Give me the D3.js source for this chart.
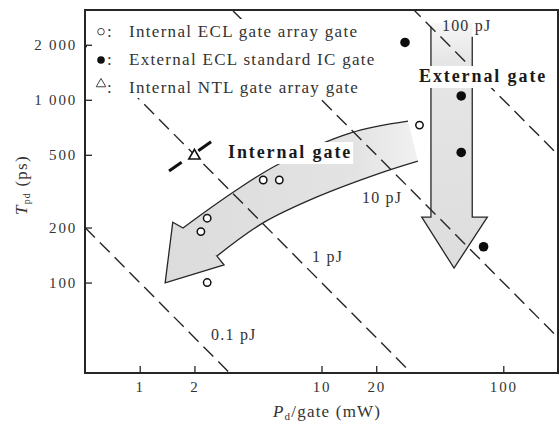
<!DOCTYPE html>
<html>
<head>
<meta charset="utf-8">
<script src="https://cdn.jsdelivr.net/npm/d3@7/dist/d3.min.js"></script>
<style>
  html, body { margin: 0; padding: 0; background: #fff; }
  svg { display: block; font-family: "Liberation Serif", "Times New Roman", serif; }
</style>
</head>
<body>
<svg id="chart" width="560" height="427"></svg>
<script>
// Power dissipation per gate (mW) vs propagation delay (ps)
const eclInternal = [[2.35, 100], [2.17, 190], [2.35, 225], [4.78, 364], [5.86, 364], [34.6, 727]];
const eclExternal = [[28.8, 2060], [58.7, 1050], [58.7, 515], [77.9, 157]];
const ntlInternal = [[2.0, 500]];

// Constant power-delay product lines (pJ)
const energies = [0.1, 1, 10, 100];
const energyLabels = ["0.1 pJ", "1 pJ", "10 pJ", "100 pJ"];
const energyLabelAt = [[2.47, 48.5], [8.87, 129.5], [16.7, 272], [46, 2384]];

const xTicks = [1, 2, 10, 20, 100];
const xTickLabels = ["1", "2", "10", "20", "100"];
const yTicks = [100, 200, 500, 1000, 2000];
const yTickLabels = ["100", "200", "500", "1 000", "2 000"];

const legendItems = ["Internal ECL gate array gate", "External ECL standard IC gate", "Internal NTL gate array gate"];

// Trend arrows, in (mW, ps)
const internalUpper = [[29.9, 765], [14.35, 658], [5.69, 440], [3.22, 309], [1.73, 199]];
const internalHead = [[1.52, 214], [1.38, 99.5], [2.91, 124.8], [2.66, 139.6]];
const internalLower = [[2.66, 139.6], [4.77, 212], [9.45, 294], [21.8, 402], [33.9, 462]];
const externalOutline = [[67.5, 2212], [67.5, 228], [81.7, 228], [53.6, 120], [35.6, 228], [40, 228], [40, 2512]];
const externalTop = 2620;
const ntlCross = [[[1.45, 408], [1.70, 455]], [[2.10, 526], [2.47, 589]]];

const svg = d3.select("#chart");
const x = d3.scaleLog().domain([0.5, 200]).range([85, 558]);
const y = d3.scaleLog().domain([32, 3100]).range([373, 10]);
const ink = "#262626";
const px = d => x(d[0]), py = d => y(d[1]);

const defs = svg.append("defs");
defs.append("clipPath").attr("id", "plot")
  .append("rect").attr("x", x(0.5)).attr("y", y(3100))
  .attr("width", x(200) - x(0.5)).attr("height", y(32) - y(3100));

const gi = defs.append("linearGradient").attr("id", "gInt")
  .attr("gradientUnits", "userSpaceOnUse")
  .attr("x1", x(1.4)).attr("x2", x(34)).attr("y1", 0).attr("y2", 0);
gi.append("stop").attr("offset", 0).attr("stop-color", "#dcdcdc");
gi.append("stop").attr("offset", 0.75).attr("stop-color", "#e3e3e3");
gi.append("stop").attr("offset", 1).attr("stop-color", "#f1f1f1");

const ge = defs.append("linearGradient").attr("id", "gExt")
  .attr("gradientUnits", "userSpaceOnUse")
  .attr("x1", 0).attr("x2", 0).attr("y1", y(externalTop)).attr("y2", y(120));
ge.append("stop").attr("offset", 0).attr("stop-color", "#f6f6f6");
ge.append("stop").attr("offset", 0.15).attr("stop-color", "#e6e6e6");
ge.append("stop").attr("offset", 1).attr("stop-color", "#dddddd");

const plot = svg.append("g").attr("clip-path", "url(#plot)");

// Internal gate arrow
const curve = d3.line().x(px).y(py).curve(d3.curveCatmullRom.alpha(0.5));
const upperPath = curve(internalUpper);
const lowerPath = curve(internalLower).replace(/^M/, "L");
const headPath = internalHead.map(d => "L" + px(d) + "," + py(d)).join("");
const internalD = upperPath + headPath + lowerPath;
plot.append("path").attr("d", internalD + "Z").attr("fill", "url(#gInt)").attr("stroke", "none");
plot.append("path").attr("d", internalD).attr("fill", "none")
  .attr("stroke", ink).attr("stroke-width", 1.3).attr("stroke-linejoin", "miter");

// External gate arrow
const extFillPts = [[40, externalTop], [67.5, externalTop], ...externalOutline.slice(1), [40, externalTop]];
plot.append("path")
  .attr("d", d3.line().x(px).y(py)(extFillPts) + "Z")
  .attr("fill", "url(#gExt)").attr("stroke", "none");
plot.append("path")
  .attr("d", d3.line().x(px).y(py)(externalOutline))
  .attr("fill", "none").attr("stroke", ink).attr("stroke-width", 1.3);

// Constant-energy dashed lines: T = 1000 * E / P
plot.selectAll("line.energy").data(energies).join("line")
  .attr("class", "energy")
  .attr("x1", x(0.5)).attr("y1", e => y(1000 * e / 0.5))
  .attr("x2", x(200)).attr("y2", e => y(1000 * e / 200))
  .attr("stroke", ink).attr("stroke-width", 1.4)
  .attr("stroke-dasharray", "14,7");

// Energy labels
svg.selectAll("text.elab").data(energies).join("text")
  .attr("class", "elab")
  .attr("x", (e, i) => x(energyLabelAt[i][0]))
  .attr("y", (e, i) => y(energyLabelAt[i][1]))
  .attr("font-size", 16).attr("letter-spacing", 1.2).attr("fill", "#333")
  .text((e, i) => energyLabels[i]);

// Arrow captions, each on a white patch
function caption(text, at) {
  const t = svg.append("text").attr("x", x(at[0])).attr("y", y(at[1]))
    .attr("font-size", 18).attr("font-weight", "bold").attr("letter-spacing", 1.9)
    .attr("fill", "#1a1a1a").text(text);
  const b = t.node().getBBox();
  svg.insert("rect", () => t.node())
    .attr("x", b.x - 3).attr("y", b.y).attr("width", b.width + 4).attr("height", b.height + 2)
    .attr("fill", "#fff");
}
caption("Internal gate", [3.06, 480]);
caption("External gate", [34.4, 1251]);

// Legend with white background
const lg = svg.append("g");
lg.append("rect").attr("x", 87).attr("y", 19).attr("width", 294).attr("height", 79).attr("fill", "#fff");
legendItems.forEach((label, i) => {
  const by = 36.7 + i * 28.3;
  lg.append("text").attr("x", 107).attr("y", by).attr("font-size", 17).attr("fill", "#333").text(":");
  lg.append("text").attr("x", 129).attr("y", by)
    .attr("font-size", 17).attr("letter-spacing", 1.3).attr("fill", "#333").text(label);
});
lg.append("circle").attr("cx", 101).attr("cy", 31.7).attr("r", 3.3)
  .attr("fill", "none").attr("stroke", "#444").attr("stroke-width", 1);
lg.append("circle").attr("cx", 101).attr("cy", 60).attr("r", 3.8).attr("fill", "#111");
lg.append("path").attr("d", d3.symbol(d3.symbolTriangle, 40)())
  .attr("transform", "translate(101,84)")
  .attr("fill", "none").attr("stroke", "#444").attr("stroke-width", 1);

// NTL marker crossing
svg.selectAll("line.cross").data(ntlCross).join("line")
  .attr("x1", d => px(d[0])).attr("y1", d => py(d[0]))
  .attr("x2", d => px(d[1])).attr("y2", d => py(d[1]))
  .attr("stroke", "#111").attr("stroke-width", 3).attr("stroke-linecap", "butt");

// Data points
svg.selectAll("circle.int").data(eclInternal).join("circle")
  .attr("cx", px).attr("cy", py).attr("r", 3.7)
  .attr("fill", "#fff").attr("stroke", "#111").attr("stroke-width", 1.5);
svg.selectAll("circle.ext").data(eclExternal).join("circle")
  .attr("cx", px).attr("cy", py).attr("r", 4.8).attr("fill", "#0d0d0d");
svg.selectAll("path.ntl").data(ntlInternal).join("path")
  .attr("d", d3.symbol(d3.symbolTriangle, 55)())
  .attr("transform", d => `translate(${px(d)},${py(d) + 1})`)
  .attr("fill", "#fff").attr("stroke", "#111").attr("stroke-width", 1.6);

// Frame
svg.append("rect").attr("x", x(0.5)).attr("y", y(3100))
  .attr("width", x(200) - x(0.5)).attr("height", y(32) - y(3100))
  .attr("fill", "none").attr("stroke", ink).attr("stroke-width", 2);

// Axes with inward ticks
const xAxis = d3.axisBottom(x).tickValues(xTicks).tickSizeInner(-7).tickSizeOuter(0)
  .tickPadding(8).tickFormat((d, i) => xTickLabels[i]);
const gx = svg.append("g").attr("transform", `translate(0,${y(32)})`).call(xAxis);
const yAxis = d3.axisLeft(y).tickValues(yTicks).tickSizeInner(-7).tickSizeOuter(0)
  .tickPadding(8).tickFormat((d, i) => yTickLabels[i]);
const gy = svg.append("g").attr("transform", `translate(${x(0.5)},0)`).call(yAxis);
[gx, gy].forEach(g => {
  g.select(".domain").remove();
  g.selectAll(".tick line").attr("stroke", ink).attr("stroke-width", 1.3);
  g.selectAll(".tick text").attr("font-family", "Liberation Serif")
    .attr("font-size", 15).attr("letter-spacing", 1.8).attr("fill", "#333");
});

// Axis titles
const xt = svg.append("text").attr("x", 273).attr("y", 417)
  .attr("font-size", 17).attr("letter-spacing", 1.2).attr("fill", "#333");
xt.append("tspan").attr("font-style", "italic").text("P");
xt.append("tspan").attr("font-size", 11).attr("dy", 3).text("d");
xt.append("tspan").attr("dy", -3).text("/gate (mW)");

const yt = svg.append("text")
  .attr("transform", "translate(27,215) rotate(-90)")
  .attr("font-size", 17).attr("letter-spacing", 1.2).attr("fill", "#333");
yt.append("tspan").attr("font-style", "italic").text("T");
yt.append("tspan").attr("font-size", 10).attr("dy", 3).text("pd");
yt.append("tspan").attr("dy", -3).text(" (ps)");
</script>
</body>
</html>
